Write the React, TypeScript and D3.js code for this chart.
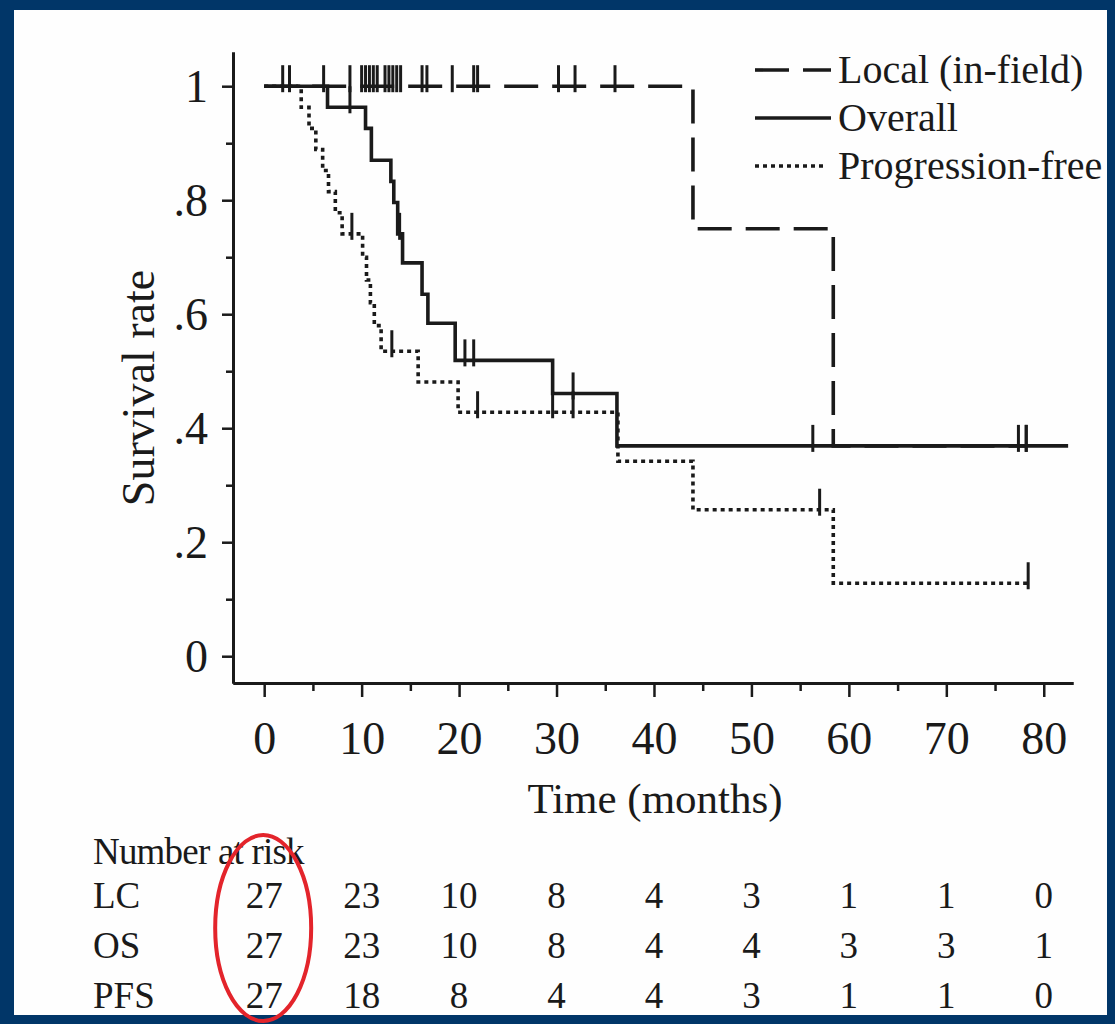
import React, { useRef, useEffect } from "react";
import * as d3 from "d3";

// Kaplan-Meier estimates (time in months, survival)
const lcTimes = [0, 44.0, 58.4, 78.2];
const lcSurv = [1, 0.75, 0.369, 0.369];
const lcCensor = [1.9, 2.6, 6.1, 8.8, 10.0, 10.4, 10.8, 11.2, 11.6, 12.4, 12.8, 13.2, 13.6, 14.0, 16.2, 16.7, 19.3, 21.5, 21.9, 30.2, 31.9, 36.0, 78.2];

const osTimes = [0, 6.5, 10.4, 11.0, 13.0, 13.3, 13.7, 14.2, 16.2, 16.8, 19.6, 29.6, 36.2, 82.5];
const osSurv = [1, 0.963, 0.926, 0.87, 0.833, 0.796, 0.741, 0.69, 0.635, 0.584, 0.519, 0.461, 0.369, 0.369];
const osCensor = [8.8, 13.9, 20.6, 21.5, 31.7, 56.3, 77.4, 78.2];

const pfsTimes = [0, 3.8, 4.6, 5.3, 6.0, 6.6, 7.3, 8.0, 10.1, 10.5, 10.9, 11.3, 12.0, 15.8, 19.9, 36.3, 44.0, 58.4, 78.4];
const pfsSurv = [1, 0.963, 0.926, 0.889, 0.852, 0.815, 0.778, 0.741, 0.7, 0.66, 0.62, 0.58, 0.535, 0.481, 0.428, 0.342, 0.257, 0.128, 0.128];
const pfsCensor = [9.0, 13.1, 21.9, 29.6, 31.7, 57.0, 78.4];

const legendLabels = ["Local (in-field)", "Overall", "Progression-free"];

const riskTimes = [0, 10, 20, 30, 40, 50, 60, 70, 80];
const riskLabels = ["LC", "OS", "PFS"];
const lcRisk = [27, 23, 10, 8, 4, 3, 1, 1, 0];
const osRisk = [27, 23, 10, 8, 4, 4, 3, 3, 1];
const pfsRisk = [27, 18, 8, 4, 4, 3, 1, 1, 0];

const xTicks = d3.range(0, 81, 10);
const xMinorTicks = d3.range(5, 81, 10);
const yTicks = [0, 0.2, 0.4, 0.6, 0.8, 1];
const yMinorTicks = [0.1, 0.3, 0.5, 0.7, 0.9];

const width = 1115;
const height = 1024;
const font = "'Liberation Serif', 'Times New Roman', serif";
const ink = "#1a1a1a";

const App = () => {
  const svgRef = useRef(null);

  useEffect(() => {
    const svg = d3.select(svgRef.current);
    svg.selectAll("*").remove();

    // blue frame
    svg.append("rect").attr("width", width).attr("height", height).attr("fill", "#013668");
    svg.append("rect").attr("x", 14).attr("y", 10).attr("width", 1093).attr("height", 1005).attr("fill", "#fefefe");

    const x = d3.scaleLinear().domain([-3.2, 83]).range([233, 1073]);
    const y = d3.scaleLinear().domain([-0.047, 1.06]).range([683, 52]);

    // axes
    const xAxis = svg.append("g").attr("transform", `translate(0, ${y.range()[0]})`)
      .call(d3.axisBottom(x).tickValues(xTicks).tickSize(14).tickSizeOuter(0).tickPadding(24));
    svg.append("g").attr("transform", `translate(0, ${y.range()[0]})`)
      .call(d3.axisBottom(x).tickValues(xMinorTicks).tickSize(8).tickSizeOuter(0).tickFormat(() => ""));
    const yAxis = svg.append("g").attr("transform", `translate(${x.range()[0]}, 0)`)
      .call(d3.axisLeft(y).tickValues(yTicks).tickSize(11).tickSizeOuter(0).tickPadding(14)
        .tickFormat((d) => (d === 0 ? "0" : d === 1 ? "1" : d3.format(".1f")(d).replace("0.", "."))));
    svg.append("g").attr("transform", `translate(${x.range()[0]}, 0)`)
      .call(d3.axisLeft(y).tickValues(yMinorTicks).tickSize(7).tickSizeOuter(0).tickFormat(() => ""));

    svg.selectAll(".domain").attr("stroke", ink).attr("stroke-width", 3);
    svg.selectAll(".tick line").attr("stroke", ink).attr("stroke-width", 2.5);
    svg.selectAll(".tick text").attr("font-family", font).attr("font-size", 46).attr("fill", ink);
    yAxis.selectAll(".tick text").attr("dy", "0.34em");
    xAxis.selectAll(".tick text").attr("dy", "0.71em");

    svg.append("text").attr("x", 655).attr("y", 813).attr("text-anchor", "middle")
      .attr("font-family", font).attr("font-size", 43).attr("fill", ink).text("Time (months)");
    svg.append("text").attr("transform", "translate(154, 388) rotate(-90)").attr("text-anchor", "middle")
      .attr("font-family", font).attr("font-size", 46).attr("fill", ink).text("Survival rate");

    // curves
    const series = [
      { t: lcTimes, s: lcSurv, c: lcCensor, dash: "34,14" },
      { t: osTimes, s: osSurv, c: osCensor, dash: null },
      { t: pfsTimes, s: pfsSurv, c: pfsCensor, dash: "4,4" },
    ];
    const line = d3.line().x((d) => x(d[0])).y((d) => y(d[1])).curve(d3.curveStepAfter);
    const survAt = (sr, t) => {
      let v = sr.s[0];
      sr.t.forEach((tt, i) => { if (tt <= t) v = sr.s[i]; });
      return v;
    };

    series.forEach((sr) => {
      const pts = sr.t.map((t, i) => [t, sr.s[i]]);
      svg.append("path").attr("d", line(pts)).attr("fill", "none").attr("stroke", ink)
        .attr("stroke-width", 3.6).attr("stroke-dasharray", sr.dash);
      svg.append("g").selectAll("line").data(sr.c).join("line")
        .attr("x1", (d) => x(d)).attr("x2", (d) => x(d))
        .attr("y1", (d) => y(survAt(sr, d)) - 21).attr("y2", (d) => y(survAt(sr, d)) + 6)
        .attr("stroke", ink).attr("stroke-width", 3);
    });

    // legend
    const legend = svg.append("g").attr("transform", "translate(755, 70)");
    legendLabels.forEach((lab, i) => {
      legend.append("line").attr("x1", 0).attr("x2", i === 2 ? 70 : 76).attr("y1", i * 48).attr("y2", i * 48)
        .attr("stroke", ink).attr("stroke-width", 3.6).attr("stroke-dasharray", series[i].dash);
      legend.append("text").attr("x", 83).attr("y", i * 48 + 13).attr("font-family", font)
        .attr("font-size", 40).attr("fill", ink).text(lab);
    });

    // number at risk table
    const rows = [lcRisk, osRisk, pfsRisk];
    const rowY = d3.scalePoint().domain(riskLabels).range([908, 1008]);
    svg.append("text").attr("x", 93).attr("y", 864).attr("font-family", font).attr("font-size", 37)
      .attr("fill", ink).attr("letter-spacing", -0.8).text("Number at risk");
    riskLabels.forEach((lab, r) => {
      svg.append("text").attr("x", 93).attr("y", rowY(lab)).attr("font-family", font).attr("font-size", 37)
        .attr("fill", ink).text(lab);
      svg.append("g").selectAll("text").data(rows[r]).join("text")
        .attr("x", (d, i) => x(riskTimes[i])).attr("y", rowY(lab)).attr("text-anchor", "middle")
        .attr("font-family", font).attr("font-size", 37).attr("fill", ink).text((d) => d);
    });

    // red highlight around the baseline column
    svg.append("ellipse").attr("cx", x(riskTimes[0]) - 1).attr("cy", 928).attr("rx", 48).attr("ry", 93)
      .attr("fill", "none").attr("stroke", "#e3242b").attr("stroke-width", 4);
  }, []);

  return (
    <svg ref={svgRef} width={width} height={height}
      style={{ position: "absolute", left: 0, top: 0, display: "block" }} />
  );
};

export default App;
